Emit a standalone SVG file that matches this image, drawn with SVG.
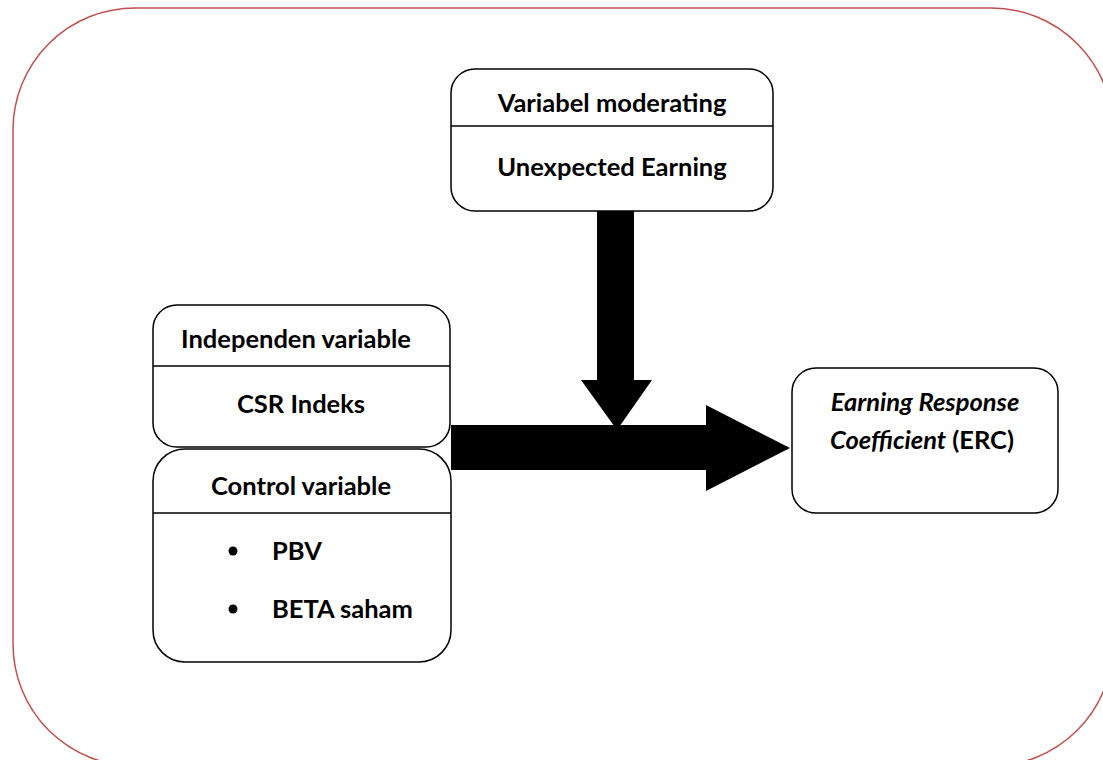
<svg xmlns="http://www.w3.org/2000/svg" width="1103" height="760" viewBox="0 0 1103 760">
<style>
.box{fill:#fff;stroke:#000;stroke-width:1.5}
.div{stroke:#000;stroke-width:1.5}
.t{font-family:Lato,"Open Sans",sans-serif;font-weight:bold;font-size:25.5px;fill:#000;text-anchor:middle}
.l{text-anchor:start}
.i{font-style:italic}
</style>
<rect x="0" y="0" width="1103" height="760" fill="#fff"/>
<rect id="frame" x="13" y="8" width="1100" height="758" rx="122" ry="122" fill="none" stroke="#C0504D" stroke-width="1.5"/>
<g id="connectors" fill="#000">
<polygon points="451,425 706,425 706,405 790,448 706,491 706,470 451,470"/>
<polygon points="597,211 634,211 634,380 652,380 617,430 581,380 597,380"/>
</g>
<g id="moderating">
<rect class="box" x="451" y="69" width="322" height="142" rx="24"/>
<line class="div" x1="451" y1="126" x2="773" y2="126"/>
<text class="t" x="612" y="112">Variabel moderating</text>
<text class="t" x="612" y="176">Unexpected Earning</text>
</g>
<g id="independen">
<rect class="box" x="153" y="305" width="297" height="142" rx="24"/>
<line class="div" x1="153" y1="366" x2="450" y2="366"/>
<text class="t" x="296" y="348">Independen variable</text>
<text class="t" x="301" y="413">CSR Indeks</text>
</g>
<g id="control">
<rect class="box" x="153" y="449" width="298" height="213" rx="32"/>
<line class="div" x1="153" y1="513" x2="451" y2="513"/>
<text class="t" x="301" y="495">Control variable</text>
<circle cx="233" cy="551" r="4.5" fill="#000"/>
<circle cx="233" cy="609" r="4.5" fill="#000"/>
<text class="t l" x="272" y="560">PBV</text>
<text class="t l" x="272" y="618">BETA saham</text>
</g>
<g id="erc">
<rect class="box" x="792" y="368" width="266" height="145" rx="24"/>
<text class="t i" x="925" y="411">Earning Response</text>
<text class="t" x="922" y="449"><tspan font-style="italic">Coefficient</tspan> (ERC)</text>
</g>
</svg>
